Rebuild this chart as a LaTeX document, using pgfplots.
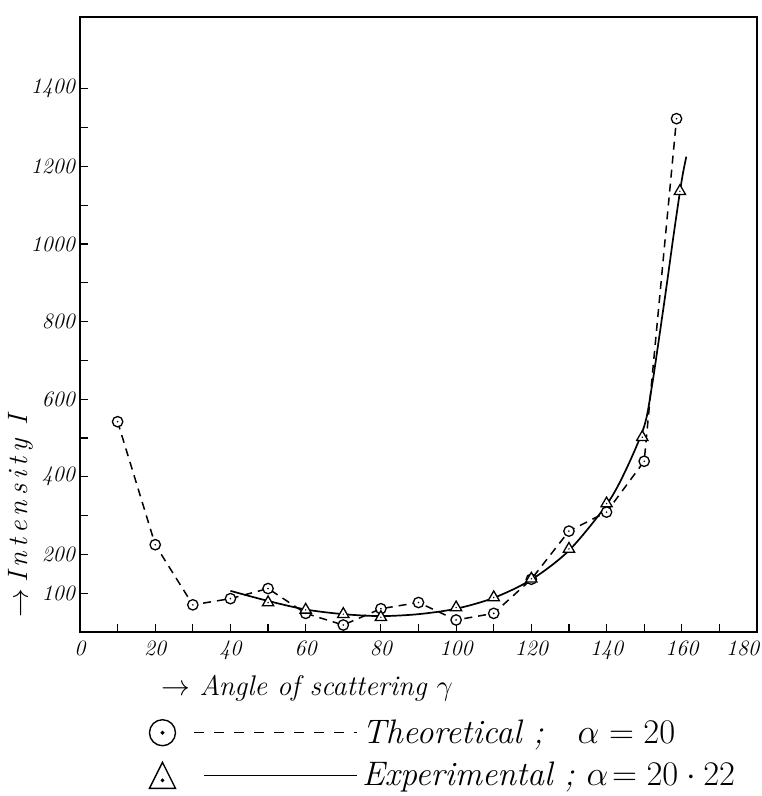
\documentclass[border=0pt]{standalone}
\usepackage{fontspec}
\usepackage{pgfplots}
\pgfplotsset{compat=1.18}

\pgfdeclareplotmark{odot}{%
  \pgfsetfillcolor{white}%
  \pgfpathcircle{\pgfpointorigin}{\pgfplotmarksize}\pgfusepathqfillstroke
  \pgfsetfillcolor{black}%
  \pgfpathcircle{\pgfpointorigin}{0.45pt}\pgfusepathqfill}
\pgfdeclareplotmark{tridot}{%
  \pgfsetfillcolor{white}%
  \pgfpathmoveto{\pgfpointpolar{90}{1.25\pgfplotmarksize}}%
  \pgfpathlineto{\pgfpointpolar{210}{1.25\pgfplotmarksize}}%
  \pgfpathlineto{\pgfpointpolar{330}{1.25\pgfplotmarksize}}%
  \pgfpathclose\pgfusepathqfillstroke
  \pgfsetfillcolor{black}%
  \pgfpathcircle{\pgfpointorigin}{0.4pt}\pgfusepathqfill}

\pgfplotstableread{
x y
10 542
20 225
30 70
40 86
50 112
60 48
70 18
80 60
90 76
100 31
110 48
120 136
130 260
140 309
150 440
158.6 1323
}\theo

\pgfplotstableread{
x y
40 106
50 80
60 58
70 46
80 41
90 46
100 60
110 88
120 135
130 210
140 328
145 415
150 530
152 630
154 760
156 895
158 1035
160 1165
161.2 1225
}\expcurve

\pgfplotstableread{
x y
50 76
60 57
70 46
80 38
100 63
110 89
120 137
130 214
140 331
149.5 502
159.5 1136
}\expmarks

\newcommand{\lsp}{\kern2.4pt}

\begin{document}
\begin{tikzpicture}
\begin{axis}[
  name=ax,
  scale only axis,
  width=338.5pt, height=307.5pt,
  xmin=0, xmax=180, ymin=0, ymax=1585,
  axis line style={line width=0.65pt},
  xtick={0,20,...,180},
  xticklabels={0,20,40,60,80,100,120,140,160,\llap{180\kern-1pt}},
  minor xtick={10,30,...,170},
  ytick={100,200,400,600,800,1000,1200,1400},
  minor ytick={300,500,700,900,1100,1300},
  tick align=inside,
  major tick length=4pt, minor tick length=4pt,
  tick style={black, line width=0.6pt},
  xtick pos=bottom, ytick pos=left,
  ticklabel style={font=\fontsize{11pt}{13pt}\selectfont\itshape},
  /pgf/number format/assume math mode=true,
  /pgf/number format/1000 sep={},
  scaled ticks=false,
  xticklabel style={yshift=-1pt},
  yticklabel style={xshift=1pt},
  xlabel={$\rightarrow$ \textit{Angle of scattering} $\gamma$},
  xlabel style={font=\fontsize{14.2pt}{16pt}\selectfont, at={(axis description cs:0.11,-0.091)}, anchor=west},
  ylabel={\Large$\rightarrow$\kern3pt{\fontsize{14pt}{16pt}\selectfont\itshape I\lsp n\lsp t\lsp e\lsp n\lsp s\lsp i\lsp t\lsp y\kern7pt I}},
  ylabel style={at={(axis description cs:-0.087,0.188)}, anchor=center},
  legend style={draw=none, fill=none, font=\fontsize{17pt}{20pt}\selectfont\itshape,
    at={(axis description cs:0.101,-0.135)}, anchor=north west,
    row sep=4pt, cells={anchor=west}, inner sep=0pt},
]
\addplot[black, line width=0.75pt, dash pattern=on 4pt off 3pt, mark=odot, mark size=2.6pt,
  mark options={solid, line width=0.65pt}, forget plot] table[x=x,y=y] {\theo};
\addplot[black, line width=0.85pt, smooth, tension=0.5, forget plot] table[x=x,y=y] {\expcurve};
\addplot[black, only marks, mark=tridot, mark size=2.6pt, mark options={line width=0.65pt}, forget plot]
  table[x=x,y=y] {\expmarks};
\addlegendimage{legend image code/.code={
  \draw[line width=0.7pt] (6.5pt,0) circle (6.5pt);
  \fill (6.5pt,0) circle (0.8pt);
  \draw[line width=0.7pt, dash pattern=on 5pt off 5pt] (22.5pt,0) -- (104pt,0);
}}
\addlegendentry{Theoretical ;\quad\upshape$\alpha = 20$}
\addlegendimage{legend image code/.code={
  \draw[line width=0.7pt] (0pt,-6.5pt) -- (13pt,-6.5pt) -- (6.5pt,6.5pt) -- cycle;
  \fill (6.5pt,-2.5pt) circle (0.7pt);
  \draw[line width=0.7pt] (27.5pt,0) -- (104pt,0);
}}
\addlegendentry{Experimental ;\ \upshape$\alpha\!= 20\cdot 22$}
\end{axis}
\pgfresetboundingbox
\path[use as bounding box] ([xshift=-40pt,yshift=-82pt]ax.south west) rectangle ([xshift=2pt,yshift=8.5pt]ax.north east);
\end{tikzpicture}
\end{document}
